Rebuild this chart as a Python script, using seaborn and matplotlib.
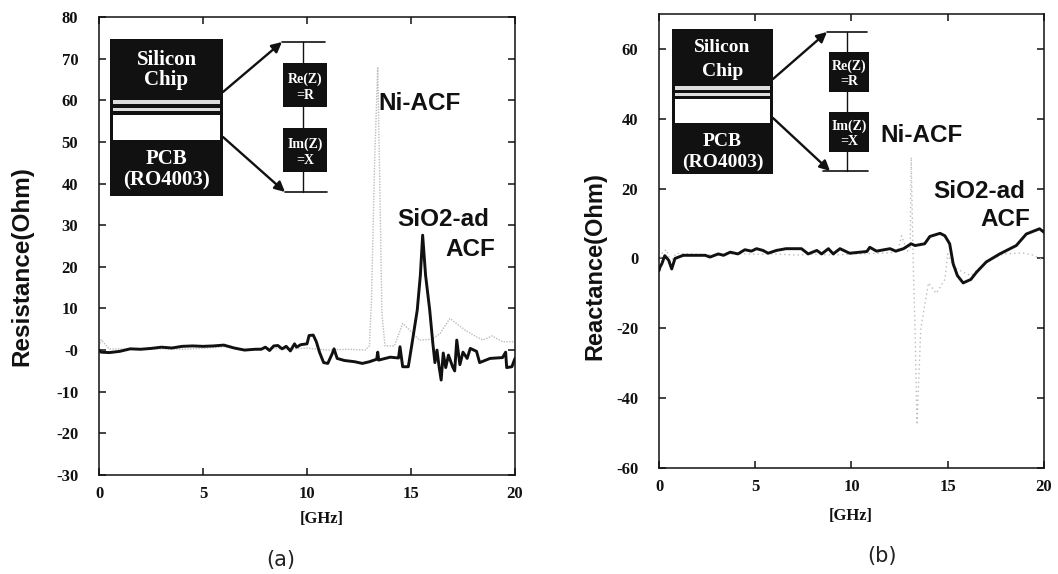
import matplotlib
matplotlib.use('Agg')
import matplotlib.pyplot as plt
import pandas as pd
import seaborn as sns
from matplotlib.patches import Rectangle

# (a) resistance, SiO2-ad ACF (black)
res_sio2_x = [0, 0.1, 0.5, 1, 1.5, 2, 2.5, 3, 3.5, 4, 4.5, 5, 5.5, 6, 6.5, 7, 7.5, 7.8, 8, 8.2, 8.4, 8.6, 8.8,
              9, 9.2, 9.4, 9.5, 9.7, 10, 10.1, 10.3, 10.45, 10.6, 10.8, 11, 11.2, 11.3, 11.45, 11.8, 12.3, 12.66,
              13, 13.35, 13.4, 13.45, 14, 14.4, 14.47, 14.6, 14.87, 15.05, 15.3, 15.45, 15.56,
              15.7, 15.9, 16.05, 16.15, 16.25, 16.35, 16.45, 16.55, 16.67, 16.8, 17, 17.1, 17.2, 17.35, 17.5,
              17.7, 17.85, 18.15, 18.3, 18.8, 19.4, 19.55, 19.6, 19.85, 20]
res_sio2_y = [0, -0.5, -0.6, -0.3, 0.3, 0.2, 0.4, 0.7, 0.5, 0.9, 1, 0.9, 1, 1.2, 0.5, 0, 0.2, 0.2, 0.7, -0.1, 1, 1.1, 0.3,
              0.9, -0.2, 1.5, 0.7, 1.3, 1.5, 3.5, 3.6, 2, -0.5, -3, -3.2, -1, 0.3, -2, -2.5, -2.8, -3.2,
              -2.8, -2.2, -0.5, -2.4, -1.7, -1.9, 0.8, -4, -4, 1.6, 9.6, 18, 27.6,
              18, 9.6, 1.6, -3, 0, -4, -7.2, -0.7, -4.2, -1.2, -4, -5, 2.4, -3.5, -0.5,
              -2, 0.4, -0.3, -3, -2, -1.8, -0.5, -4.2, -4, -2]

# (a) resistance, Ni-ACF (gray)
res_ni_x = [0, 0.1, 0.5, 1, 2, 3, 4, 5, 6, 7, 8, 9, 10, 10.5, 11, 12, 12.8, 13, 13.1, 13.25, 13.4, 13.5, 13.6, 13.75,
            14.2, 14.6, 15.1, 15.4, 16, 16.4, 16.87, 17.6, 18, 18.45, 18.9, 19.4, 20]
res_ni_y = [1, 2.5, 0.2, 0.3, 0.1, 0.3, 0.2, 0.4, 0.8, 0.1, 0.6, 0.2, 0.5, 0.2, 0, 0.2, 0, 1, 12, 45, 68, 40, 9, 1,
            1, 6.4, 4, 2.4, 2.6, 4, 7.6, 4.8, 3.6, 2.4, 3.4, 2, 2]

# (b) reactance, SiO2-ad ACF (black)
rea_sio2_x = [0, 0.05, 0.15, 0.3, 0.5, 0.66, 0.83, 1.26, 2.4, 2.65, 3.08, 3.35, 3.7, 4.1, 4.46, 4.8, 5.07, 5.4, 5.67,
              6.1, 6.6, 7.4, 7.75, 8.2, 8.45, 8.8, 9.05, 9.4, 9.9, 10.8, 10.95, 11.3, 12, 12.3, 12.7, 13.1, 13.3,
              13.8, 14.07, 14.6, 14.85, 15.1, 15.28, 15.5, 15.8, 16.2, 16.5, 17, 17.7, 18.56, 19.08, 19.77, 20]
rea_sio2_y = [-3.5, -2.5, -1.5, 0.8, -0.5, -3, 0, 0.9, 0.9, 0.4, 1.3, 0.9, 1.8, 1.3, 2.5, 2.1, 2.8, 2.3, 1.5,
              2.3, 2.8, 2.8, 1.3, 2.3, 1.3, 2.8, 1.3, 2.8, 1.5, 2, 3.2, 2.1, 2.8, 2.1, 2.8, 4.2, 3.7,
              4.2, 6.3, 7.2, 6.5, 4.2, -1.5, -4.9, -7, -6, -3.9, -1, 1.3, 3.7, 7, 8.5, 7.5]

# (b) reactance, Ni-ACF (gray)
rea_ni_x = [0, 0.2, 0.4, 0.6, 0.9, 2, 3, 4, 5, 6, 7, 8, 9, 10, 11, 12, 12.4, 12.6, 12.9, 13.05, 13.1, 13.2, 13.3, 13.4,
            13.6, 14, 14.4, 14.85, 15, 15.3, 15.8, 16.2, 17, 17.9, 18.4, 18.9, 19.4, 20]
rea_ni_y = [-1, 2, 2.5, -1, 1.5, 1.2, 1.0, 1.4, 1.2, 1.3, 1.0, 1.2, 1.0, 1.2, 1.4, 1.6, 2, 6.5, 2, 3, 29, 0, -20, -47.6,
            -20, -7, -10, -6, 1.3, -2.5, -3.9, -4.9, -1, 1.3, 1.4, 1.6, 1, -0.6]

res_ticks = [80, 70, 60, 50, 40, 30, 20, 10, 0, -10, -20, -30]
res_labels = ['80', '70', '60', '50', '40', '30', '20', '10', '-0', '-10', '-20', '-30']
rea_ticks = [60, 40, 20, 0, -20, -40, -60]
rea_labels = ['60', '40', '20', '0', '-20', '-40', '-60']
freq_ticks = [0, 5, 10, 15, 20]

W, H = 1058, 574
SERIF = 'Liberation Serif'
SANS = 'Liberation Sans'

sns.set_style('ticks')
fig = plt.figure(figsize=(W / 100, H / 100), dpi=100)


def make_panel(x0, x1, y_top, y_bot, ylim, yticks, ylabels, sio2, ni, ni_dash):
    ax = fig.add_axes([x0 / W, 1 - y_bot / H, (x1 - x0) / W, (y_bot - y_top) / H])
    df_ni = pd.DataFrame({'f': ni[0], 'v': ni[1]})
    df_si = pd.DataFrame({'f': sio2[0], 'v': sio2[1]})
    sns.lineplot(data=df_ni, x='f', y='v', ax=ax, color='#bcbcbc', lw=1.0, ls=ni_dash, estimator=None, sort=False)
    sns.lineplot(data=df_si, x='f', y='v', ax=ax, color='#111111', lw=2.1, estimator=None, sort=False)
    ax.set_xlim(0, 20)
    ax.set_ylim(*ylim)
    ax.set_xlabel('')
    ax.set_ylabel('')
    ax.set_xticks(freq_ticks)
    ax.set_yticks(yticks)
    ax.set_yticklabels(ylabels)
    ax.tick_params(direction='in', length=5, width=1.1, top=True, right=True, color='#111111')
    ax.tick_params(axis='x', pad=8)
    ax.tick_params(axis='y', pad=15)
    for lab in ax.get_xticklabels() + ax.get_yticklabels():
        lab.set_family(SERIF)
        lab.set_weight('bold')
        lab.set_fontsize(12)
        lab.set_color('#111111')
    for s in ax.spines.values():
        s.set_linewidth(1.1)
        s.set_color('#111111')
    return ax


make_panel(99, 515, 17, 475, (-30, 80), res_ticks, res_labels,
           (res_sio2_x, res_sio2_y), (res_ni_x, res_ni_y), (0, (1, 1)))
make_panel(659, 1044, 14, 468, (-60, 70), rea_ticks, rea_labels,
           (rea_sio2_x, rea_sio2_y), (rea_ni_x, rea_ni_y), (0, (1, 2.2)))

# overlay in image pixels for the schematic insets and free labels
ov = fig.add_axes([0, 0, 1, 1], facecolor='none')
ov.set_xlim(0, W)
ov.set_ylim(H, 0)
ov.axis('off')


def box(x0, y0, x1, y1, color='#111111'):
    ov.add_patch(Rectangle((x0, y0), x1 - x0, y1 - y0, color=color, lw=0))


def inset(bx0, bx1, by0, by1, stripes, white, names, name_size, vx, top, bot, re_box, im_box, arrows):
    box(bx0, by0, bx1, by1)
    for s0, s1 in stripes:
        box(bx0 + 3, s0, bx1 - 3, s1, '#dddddd')
    box(bx0 + 3, white[0], bx1 - 3, white[1], 'white')
    cx = (bx0 + bx1) / 2
    for txt, y in names:
        ov.text(cx, y, txt, color='white', family=SERIF, weight='bold', fontsize=name_size, ha='center', va='center')
    ov.plot([top[0], top[1]], [top[2], top[2]], color='#111111', lw=1.2)
    ov.plot([bot[0], bot[1]], [bot[2], bot[2]], color='#111111', lw=1.2)
    ov.plot([vx, vx], [top[2], bot[2]], color='#111111', lw=1.0)
    for (x0, x1, y0, y1), lines in ((re_box, ('Re(Z)', '=R')), (im_box, ('Im(Z)', '=X'))):
        box(x0, y0, x1, y1)
        ov.text((x0 + x1) / 2, y0 + 0.36 * (y1 - y0), lines[0], color='white', family=SERIF, weight='bold',
                fontsize=10, ha='center', va='center')
        ov.text((x0 + x1) / 2, y0 + 0.74 * (y1 - y0), lines[1], color='white', family=SERIF, weight='bold',
                fontsize=10, ha='center', va='center')
    for start, end in arrows:
        ov.annotate('', xy=end, xytext=start,
                    arrowprops=dict(arrowstyle='-|>', color='#111111', lw=1.7, mutation_scale=15,
                                    shrinkA=0, shrinkB=0))


inset(110, 223, 39, 196, [(100, 104), (108, 111)], (115, 140),
      [('Silicon', 60), ('Chip', 80), ('PCB', 159), ('(RO4003)', 180)], 15,
      303, (282, 325, 42), (285, 327, 192),
      (283, 327, 63, 107), (283, 327, 128, 172),
      [((223, 92), (282, 42)), ((223, 137), (285, 192))])
inset(672, 773, 29, 174, [(86, 90), (93, 96)], (99, 123),
      [('Silicon', 48), ('Chip', 71), ('PCB', 141), ('(RO4003)', 162)], 14,
      847, (827, 867, 32), (823, 868, 171),
      (829, 869, 52, 92), (829, 869, 112, 152),
      [((773, 79), (827, 32)), ((773, 118), (830, 171))])

labels = [('Ni-ACF', 420, 103), ('SiO2-ad', 443, 220), ('ACF', 470, 250),
          ('Ni-ACF', 922, 135), ('SiO2-ad', 979, 192), ('ACF', 1005, 220)]
for txt, x, y in labels:
    ov.text(x, y, txt, family=SANS, weight='bold', fontsize=17.5, color='#111111', ha='center', va='center')

ov.text(22, 266, 'Resistance(Ohm)', family=SANS, weight='bold', fontsize=17.5, rotation=90,
        ha='center', va='center', color='#111111')
ov.text(595, 266, 'Reactance(Ohm)', family=SANS, weight='bold', fontsize=17, rotation=90,
        ha='center', va='center', color='#111111')
ov.text(322, 519, '[GHz]', family=SERIF, weight='bold', fontsize=12, ha='center', va='center', color='#111111')
ov.text(851, 516, '[GHz]', family=SERIF, weight='bold', fontsize=12, ha='center', va='center', color='#111111')
ov.text(281, 560, '(a)', fontsize=15, family='DejaVu Sans', ha='center', va='center', color='#222222')
ov.text(882, 556, '(b)', fontsize=15, family='DejaVu Sans', ha='center', va='center', color='#222222')

fig.savefig('out.png', dpi=100)
